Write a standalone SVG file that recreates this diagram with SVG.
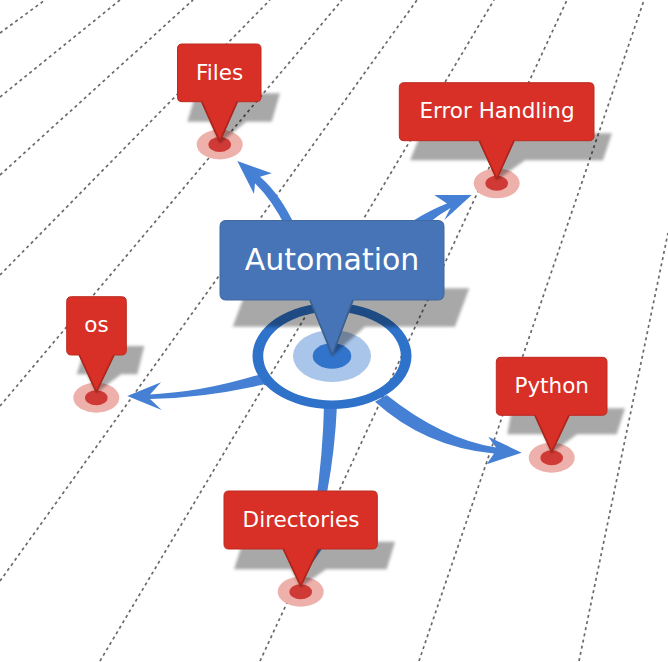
<svg xmlns="http://www.w3.org/2000/svg" width="668" height="662" viewBox="0 0 668 662">
<style>
.grid line{stroke:#6a6a6a;stroke-width:1.7;stroke-dasharray:3 3.3;fill:none}
.arrow{fill:#4580d5}
.shadow{fill:#000;fill-opacity:.34;filter:url(#blur)}
.halo{fill:#eeb0ab}
.dot{fill:#d03a36}
.pin{fill:#d82f26;stroke:#bd2a20;stroke-width:1;stroke-linejoin:round}
.main{fill:#4674b6;stroke:#41699f;stroke-width:1;stroke-linejoin:round}
.pin-edge{fill:none;stroke:#ab261c;stroke-width:1.7;stroke-linejoin:round}
.main-edge{fill:none;stroke:#3b5f91;stroke-width:1.7;stroke-linejoin:round}
text{font-family:"DejaVu Sans",sans-serif;fill:#fff;text-anchor:middle;font-size:21.5px}
</style>
<defs><filter id="blur" x="-10%" y="-20%" width="120%" height="140%"><feGaussianBlur stdDeviation="1.4"/></filter></defs>
<rect width="668" height="662" fill="#fff"/>
<g class="grid" id="grid">
<line x1="0" y1="33" x2="45" y2="0"/>
<line x1="0" y1="97" x2="120" y2="0"/>
<line x1="0" y1="175" x2="193" y2="0"/>
<line x1="0" y1="275" x2="270" y2="0"/>
<line x1="0" y1="406" x2="342" y2="0"/>
<line x1="0" y1="581" x2="417" y2="0"/>
<line x1="100" y1="661" x2="494" y2="0"/>
<line x1="260" y1="661" x2="567" y2="0"/>
<line x1="419" y1="661" x2="644" y2="0"/>
<line x1="579" y1="661" x2="668" y2="233"/>
</g>
<g id="connectors">
<path class="arrow" d="M237.3,161 L271.7,173.3 L260,176.7 Q281,195 296,228 L286,228 Q273,201 255,183.3 L254,194 Z"/>
<path class="arrow" d="M471.7,195 L434.3,195 L447,203.5 Q430,210 411,222 L430,222 Q440,214 450.5,208 L444.3,220 Z"/>
<path class="arrow" d="M127.3,396 L161,382.3 L150,394.5 Q205,392 266,372.5 L268,383.5 Q205,398 150,399 L161.7,410 Z"/>
<path class="arrow" d="M521.7,452.7 L488.3,436.7 L496,447.5 Q442,439 386.7,395 L375,401.7 Q425,447 494,453.5 L486.7,464.3 Z"/>
<path class="arrow" d="M324,405 L337,405 Q335,450 327.3,491 L322,532 L333,533 L306,572 L295,533 L312,530 Q323,460 324,405 Z"/>
</g>
<g id="node-automation">
<path fill="#2f72c9" fill-rule="evenodd" d="M252.5,356a79.5,53 0 1,0 159,0a79.5,53 0 1,0 -159,0Z M263.2,356a68.8,44.5 0 1,0 137.6,0a68.8,44.5 0 1,0 -137.6,0Z"/>
<ellipse cx="332" cy="356" rx="39" ry="26" fill="#a9c5ea"/>
<ellipse cx="332" cy="356" rx="19.3" ry="12.7" fill="#3274cc"/>
<polygon class="shadow" points="247,288.3 469.3,288.3 455,326.7 365,326.7 332,356 322,326.7 232.7,326.7"/>
<path class="main" d="M226,220.5 H438 Q444,220.5 444,226.5 V294 Q444,300 438,300 H353 L332.3,355 L310,300 H226 Q220,300 220,294 V226.5 Q220,220.5 226,220.5 Z"/>
<path class="main-edge" d="M353,300 L332.3,355 L310,300"/>
<text x="332" y="270" style="font-size:30px">Automation</text>
</g>
<g id="node-files">
<ellipse class="halo" cx="219.7" cy="144.5" rx="23" ry="15"/>
<ellipse class="dot" cx="219.7" cy="144.5" rx="11.3" ry="7.5"/>
<polygon class="shadow" points="196,93.3 280,93.3 271.7,121.7 246,121.7 220,143 210,121.7 187.3,121.7"/>
<path class="pin" d="M182,44 H256.5 Q261,44 261,48.5 V97.2 Q261,101.7 256.5,101.7 H237.3 L219.7,141.7 L201.7,101.7 H182 Q177.5,101.7 177.5,97.2 V48.5 Q177.5,44 182,44 Z"/>
<path class="pin-edge" d="M237.3,101.7 L219.7,141.7 L201.7,101.7"/>
<text x="219.5" y="80">Files</text>
</g>
<g id="node-error-handling">
<ellipse class="halo" cx="496.7" cy="183.3" rx="23" ry="15"/>
<ellipse class="dot" cx="496.7" cy="183.3" rx="11.3" ry="7.5"/>
<polygon class="shadow" points="421,133.2 611.9,133.2 603,160.3 525,160.3 497,180 490,160.3 410,160.3"/>
<path class="pin" d="M404,82.7 H589.3 Q594,82.7 594,87.4 V136 Q594,140.7 589.3,140.7 H514 L496.7,179 L479.3,140.7 H404 Q399.3,140.7 399.3,136 V87.4 Q399.3,82.7 404,82.7 Z"/>
<path class="pin-edge" d="M514,140.7 L496.7,179 L479.3,140.7"/>
<text x="497" y="118.3">Error Handling</text>
</g>
<g id="node-os">
<ellipse class="halo" cx="96.3" cy="397.7" rx="23" ry="15"/>
<ellipse class="dot" cx="96.3" cy="397.7" rx="11.3" ry="7.5"/>
<polygon class="shadow" points="86,346 144.3,346 137.3,374.3 121,374.3 96.3,393 87,374.3 76.7,374.3"/>
<path class="pin" d="M71.4,296.7 H121.6 Q126.3,296.7 126.3,301.4 V350.3 Q126.3,355 121.6,355 H114 L96.3,392 L79.3,355 H71.4 Q66.7,355 66.7,350.3 V301.4 Q66.7,296.7 71.4,296.7 Z"/>
<path class="pin-edge" d="M114,355 L96.3,392 L79.3,355"/>
<text x="96.5" y="332.3">os</text>
</g>
<g id="node-python">
<ellipse class="halo" cx="551.7" cy="457.7" rx="23" ry="15"/>
<ellipse class="dot" cx="551.7" cy="457.7" rx="11.3" ry="7.5"/>
<polygon class="shadow" points="512,408.3 625,408.3 616.7,434.3 577,434.3 551.7,453 543,434.3 507.3,434.3"/>
<path class="pin" d="M501,357.3 H602.3 Q607,357.3 607,362 V410.6 Q607,415.3 602.3,415.3 H569 L551.7,452 L535,415.3 H501 Q496.3,415.3 496.3,410.6 V362 Q496.3,357.3 501,357.3 Z"/>
<path class="pin-edge" d="M569,415.3 L551.7,452 L535,415.3"/>
<text x="551.7" y="393.3">Python</text>
</g>
<g id="node-directories">
<ellipse class="halo" cx="300.7" cy="591.7" rx="23" ry="15"/>
<ellipse class="dot" cx="300.7" cy="591.7" rx="11.3" ry="7.5"/>
<polygon class="shadow" points="243,541.7 395,541.7 386.7,569.3 326,569.3 300.7,587 291,569.3 234,569.3"/>
<path class="pin" d="M228.7,491 H372.6 Q377.3,491 377.3,495.7 V544.3 Q377.3,549 372.6,549 H318.3 L300.7,586 L283.3,549 H228.7 Q224,549 224,544.3 V495.7 Q224,491 228.7,491 Z"/>
<path class="pin-edge" d="M318.3,549 L300.7,586 L283.3,549"/>
<text x="301" y="526.7">Directories</text>
</g>
</svg>
